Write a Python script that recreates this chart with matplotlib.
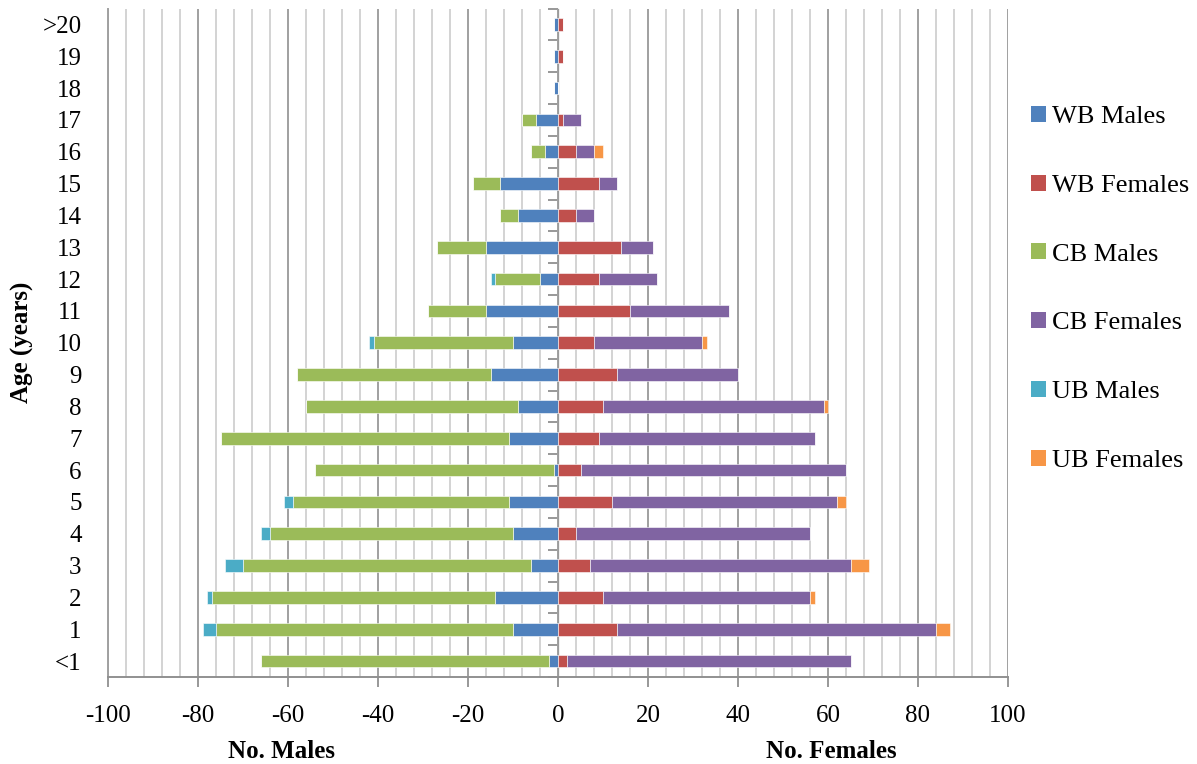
import matplotlib
matplotlib.use("Agg")
import matplotlib.pyplot as plt
from matplotlib.patches import Patch
import numpy as np

plt.rcParams['font.family'] = ['Liberation Serif', 'DejaVu Serif']

ages = ["<1"] + [str(i) for i in range(1, 20)] + [">20"]

wb_males   = [2, 10, 14, 6, 10, 11, 1, 11, 9, 15, 10, 16, 4, 16, 9, 13, 3, 5, 1, 1, 1]
cb_males   = [64, 66, 63, 64, 54, 48, 53, 64, 47, 43, 31, 13, 10, 11, 4, 6, 3, 3, 0, 0, 0]
ub_males   = [0, 3, 1, 4, 2, 2, 0, 0, 0, 0, 1, 0, 1, 0, 0, 0, 0, 0, 0, 0, 0]
wb_females = [2, 13, 10, 7, 4, 12, 5, 9, 10, 13, 8, 16, 9, 14, 4, 9, 4, 1, 0, 1, 1]
cb_females = [63, 71, 46, 58, 52, 50, 59, 48, 49, 27, 24, 22, 13, 7, 4, 4, 4, 4, 0, 0, 0]
ub_females = [0, 3, 1, 4, 0, 2, 0, 0, 1, 0, 1, 0, 0, 0, 0, 0, 2, 0, 0, 0, 0]

x_ticks = list(range(-100, 101, 20))

c_wbm, c_wbf = '#4F81BD', '#C0504D'
c_cbm, c_cbf = '#9BBB59', '#8064A2'
c_ubm, c_ubf = '#4BACC6', '#F79646'

fig = plt.figure(figsize=(11.97, 7.64), dpi=100)
ax = fig.add_axes([108/1197, 1-677/764, 900/1197, (677-8.5)/764])

y = np.arange(len(ages))
h = 0.4
wbm = -np.array(wb_males); cbm = -np.array(cb_males); ubm = -np.array(ub_males)
wbf = np.array(wb_females); cbf = np.array(cb_females); ubf = np.array(ub_females)
ekw = dict(edgecolor='white', linewidth=0.4, zorder=3)
ax.barh(y, wbm, height=h, color=c_wbm, **ekw)
ax.barh(y, wbf, height=h, color=c_wbf, **ekw)
ax.barh(y, cbm, left=wbm, height=h, color=c_cbm, **ekw)
ax.barh(y, cbf, left=wbf, height=h, color=c_cbf, **ekw)
ax.barh(y, ubm, left=wbm + cbm, height=h, color=c_ubm, **ekw)
ax.barh(y, ubf, left=wbf + cbf, height=h, color=c_ubf, **ekw)

ax.set_xlim(-100, 100)
ax.set_ylim(-0.5, len(ages) - 0.5)

# gridlines
ax.set_xticks(x_ticks)
ax.set_xticks(np.arange(-100, 101, 4), minor=True)
ax.grid(axis='x', which='minor', color='#c8c8c8', linewidth=1.1, zorder=0)
ax.grid(axis='x', which='major', color='#a0a0a0', linewidth=1.4, zorder=0)
ax.set_axisbelow(True)

ax.tick_params(axis='x', which='major', direction='out', length=7, width=1.3,
               color='#909090', labelsize=18, pad=13)
ax.tick_params(axis='x', which='minor', length=0)
ax.set_xticklabels([str(t) for t in x_ticks])

ax.set_yticks(y)
ax.set_yticklabels(ages)
ax.tick_params(axis='y', length=0, labelsize=18, pad=19)

for s in ['top', 'right']:
    ax.spines[s].set_visible(False)
ax.spines['left'].set_color('#a0a0a0')
ax.spines['left'].set_linewidth(1.4)
ax.spines['bottom'].set_color('#909090')
ax.spines['bottom'].set_linewidth(1.4)

# vertical category axis at zero with boundary ticks (pointing left)
sec = ax.secondary_yaxis(0.5)
sec.set_yticks(np.arange(-0.5, len(ages), 1.0))
sec.set_yticklabels([])
sec.tick_params(axis='y', direction='in', length=7, width=1.3, color='#909090')
sec.spines['left'].set_color('#909090')
sec.spines['left'].set_linewidth(1.4)

fig.text(282/1197, 1-752/764, "No. Males", ha='center', va='center',
         fontsize=18, fontweight='bold')
fig.text(831/1197, 1-752/764, "No. Females", ha='center', va='center',
         fontsize=18, fontweight='bold')
fig.text(22/1197, 1-342/764, "Age (years)", ha='center', va='center',
         rotation=90, fontsize=18, fontweight='bold')

labels = ["WB Males", "WB Females", "CB Males", "CB Females", "UB Males", "UB Females"]
colors = [c_wbm, c_wbf, c_cbm, c_cbf, c_ubm, c_ubf]
handles = [Patch(facecolor=c, edgecolor='none') for c in colors]
fig.legend(handles, labels, loc='upper left', bbox_to_anchor=(1031/1197, 1-106/764),
           frameon=False, fontsize=19, handlelength=0.55, handleheight=0.55,
           handletextpad=0.25, labelspacing=1.76, borderaxespad=0, borderpad=0)

fig.savefig("out.png", dpi=100)
